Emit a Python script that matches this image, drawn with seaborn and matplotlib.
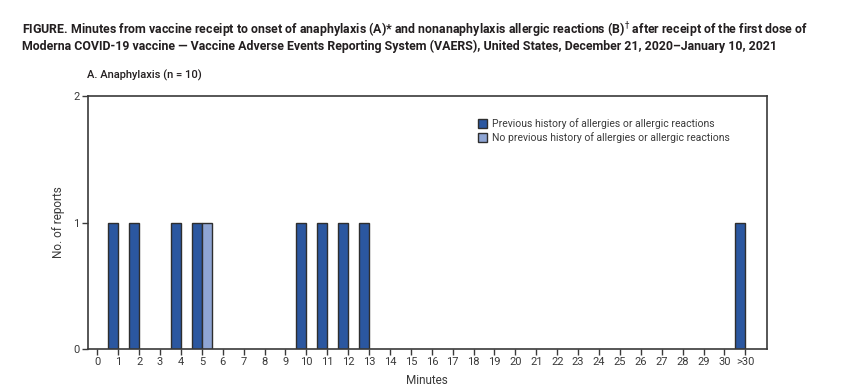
# Library Imports: pandas, numpy, matplotlib, seaborn
import pandas as pd;
import numpy as np;
import matplotlib;
matplotlib.use('Agg');
import matplotlib.pyplot as plt;
import seaborn as sns;
# ////////////////////////////////////////////////////////////////////////////////////////////////

# ////////////////////////////////////////////////////////////////////////////////////////////////
# Data: minutes from vaccine receipt to onset of anaphylaxis (n = 10)
minute_labels = [str(m) for m in range(0, 31)] + ['>30'];
prev_minutes = ['1', '2', '4', '5', '10', '11', '12', '13', '>30'];
prev_counts = [1, 1, 1, 1, 1, 1, 1, 1, 1];
noprev_minutes = ['5'];
noprev_counts = [1];
group_prev = 'Previous history of allergies or allergic reactions';
group_noprev = 'No previous history of allergies or allergic reactions';

df = pd.concat([
    pd.DataFrame({'Minutes': prev_minutes, 'Reports': prev_counts, 'Group': group_prev}),
    pd.DataFrame({'Minutes': noprev_minutes, 'Reports': noprev_counts, 'Group': group_noprev}),
], ignore_index=True);
# ////////////////////////////////////////////////////////////////////////////////////////////////

# ////////////////////////////////////////////////////////////////////////////////////////////////
# Colors and fonts
color_dark = '#2B57A0';
color_light = '#8EA5D4';
color_edge = '#2E2E2E';
color_text = '#231F20';
color_axis = '#3A3A3A';

sns.set_style('white');
plt.rcParams['font.family'] = ['Roboto', 'DejaVu Sans'];
# ////////////////////////////////////////////////////////////////////////////////////////////////

# ////////////////////////////////////////////////////////////////////////////////////////////////
# Graphic: grouped bar chart
fig = plt.figure(figsize=(8.41, 3.90), dpi=100);
ax = fig.add_axes([0.1043, 0.1051, 0.8073, 0.6487]);

sns.barplot(data=df, x='Minutes', y='Reports', hue='Group', order=minute_labels,
            hue_order=[group_prev, group_noprev], palette=[color_dark, color_light],
            saturation=1, width=0.96, edgecolor=color_edge, linewidth=1.0, ax=ax);

ax.set_xlim(-0.46, 32.02);
ax.set_ylim(0, 2);
ax.set_yticks([0, 1, 2]);
ax.set_xticks(range(len(minute_labels)));
ax.set_xticklabels(minute_labels);

for side in ['left', 'right', 'top', 'bottom']:
    ax.spines[side].set_visible(True);
    ax.spines[side].set_color(color_axis);
    ax.spines[side].set_linewidth(1.2);

ax.tick_params(axis='both', direction='out', length=4, width=1, color=color_axis,
               labelsize=8, labelcolor=color_axis, pad=2);
ax.tick_params(axis='x', bottom=True);
ax.tick_params(axis='y', left=True);

ax.set_xlabel('Minutes', fontsize=8.5, color=color_axis, labelpad=5);
ax.set_ylabel('No. of reports', fontsize=8.5, color=color_axis, labelpad=6);

leg = ax.legend(loc='upper left', bbox_to_anchor=(0.568, 0.93), frameon=False,
                fontsize=7.5, handlelength=0.9, handleheight=0.9, handletextpad=0.5,
                labelspacing=0.35, borderaxespad=0);
for txt in leg.get_texts():
    txt.set_color(color_axis);

fig.text(0.026, 0.913, 'FIGURE. Minutes from vaccine receipt to onset of anaphylaxis (A)* and nonanaphylaxis allergic reactions (B)$^{\\dagger}$ after receipt of the first dose of',
         fontsize=8.9, fontweight='bold', color=color_text, ha='left', va='baseline');
fig.text(0.026, 0.872, 'Moderna COVID-19 vaccine \u2014 Vaccine Adverse Events Reporting System (VAERS), United States, December 21, 2020\u2013January 10, 2021',
         fontsize=8.9, fontweight='bold', color=color_text, ha='left', va='baseline');
fig.text(0.1035, 0.800, 'A. Anaphylaxis (n = 10)', fontsize=8, fontweight='medium',
         color=color_text, ha='left', va='baseline');

fig.savefig('out.png', dpi=100);
# ////////////////////////////////////////////////////////////////////////////////////////////////
